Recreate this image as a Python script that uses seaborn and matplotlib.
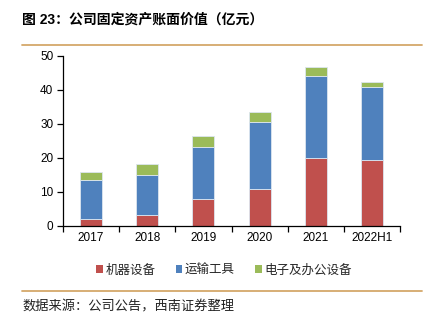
import matplotlib
matplotlib.use("Agg")
import matplotlib.pyplot as plt
import seaborn as sns
import pandas as pd
import numpy as np
from matplotlib.patches import Patch
from matplotlib.lines import Line2D

years = ["2017", "2018", "2019", "2020", "2021", "2022H1"]
machinery = [2.0, 3.3, 7.9, 10.8, 20.0, 19.3]
transport = [11.5, 11.7, 15.2, 19.9, 24.2, 21.7]
electronics = [2.3, 3.2, 3.4, 2.8, 2.5, 1.4]
series_names = ["机器设备", "运输工具", "电子及办公设备"]
colors = ["#C0504D", "#4F81BD", "#9BBB59"]
yticks = [0, 10, 20, 30, 40, 50]

sns.set_theme(style="white")
plt.rcParams['font.family'] = ['Liberation Sans', 'Noto Sans CJK SC', 'DejaVu Sans']

fig = plt.figure(figsize=(4.28, 3.25), dpi=100)
ax = fig.add_axes([63/428, 1 - 226/325, (400 - 63)/428, (226 - 56)/325])

df = pd.DataFrame({"year": years, "m": machinery, "t": transport, "e": electronics})
bottoms = np.zeros(len(years))
for col, color in zip(["m", "t", "e"], colors):
    sns.barplot(data=df, x="year", y=col, color=color, width=0.39,
                bottom=bottoms.copy(), ax=ax, saturation=1,
                edgecolor="#dce6f0", linewidth=0.6)
    bottoms = bottoms + df[col].values

ax.set_ylim(0, 50)
ax.set_xlim(-0.5, len(years) - 0.5)
ax.set_yticks(yticks)
ax.set_yticklabels([str(v) for v in yticks])
ax.set_xlabel("")
ax.set_ylabel("")
for s in ["top", "right"]:
    ax.spines[s].set_visible(False)
for s in ["left", "bottom"]:
    ax.spines[s].set_color("#000000")
    ax.spines[s].set_linewidth(0.9)
ax.tick_params(axis="y", which="major", direction="out", length=4, width=0.9,
               color="black", labelsize=8.5, labelcolor="black", pad=3, left=True)
ax.set_xticks(np.arange(len(years)))
ax.set_xticklabels(years)
ax.tick_params(axis="x", which="major", length=0, labelsize=8.5, labelcolor="black", pad=4)
ax.set_xticks(np.arange(len(years) + 1) - 0.5, minor=True)
ax.tick_params(axis="x", which="minor", direction="out", length=4, width=0.9,
               color="black", bottom=True)

# title and decorations
fig.text(22/428, 1 - 20/325, "图 23：公司固定资产账面价值（亿元）", fontsize=10,
         fontweight="bold", ha="left", va="center",
         family=['Liberation Sans', 'Noto Sans CJK SC'], color="black")
fig.add_artist(Line2D([22/428, 422/428], [1 - 44.5/325, 1 - 44.5/325],
                      color="#D4A86A", linewidth=1.3))
fig.add_artist(Line2D([22/428, 422/428], [1 - 291/325, 1 - 291/325],
                      color="#D4A86A", linewidth=1.3))
fig.text(22/428, 1 - 307/325, "数据来源：公司公告，西南证券整理", fontsize=9.5,
         ha="left", va="center", family=['Noto Sans CJK SC'], color="#222222")

handles = [Patch(facecolor=c, edgecolor="none") for c in colors]
fig.legend(handles, series_names, loc="center", bbox_to_anchor=(224/428, 1 - 270/325),
           ncol=3, frameon=False, handlelength=0.55, handleheight=0.55,
           handletextpad=0.2, columnspacing=1.6,
           prop={"family": ['Noto Sans CJK SC'], "size": 9})

fig.savefig("out.png", dpi=100)
